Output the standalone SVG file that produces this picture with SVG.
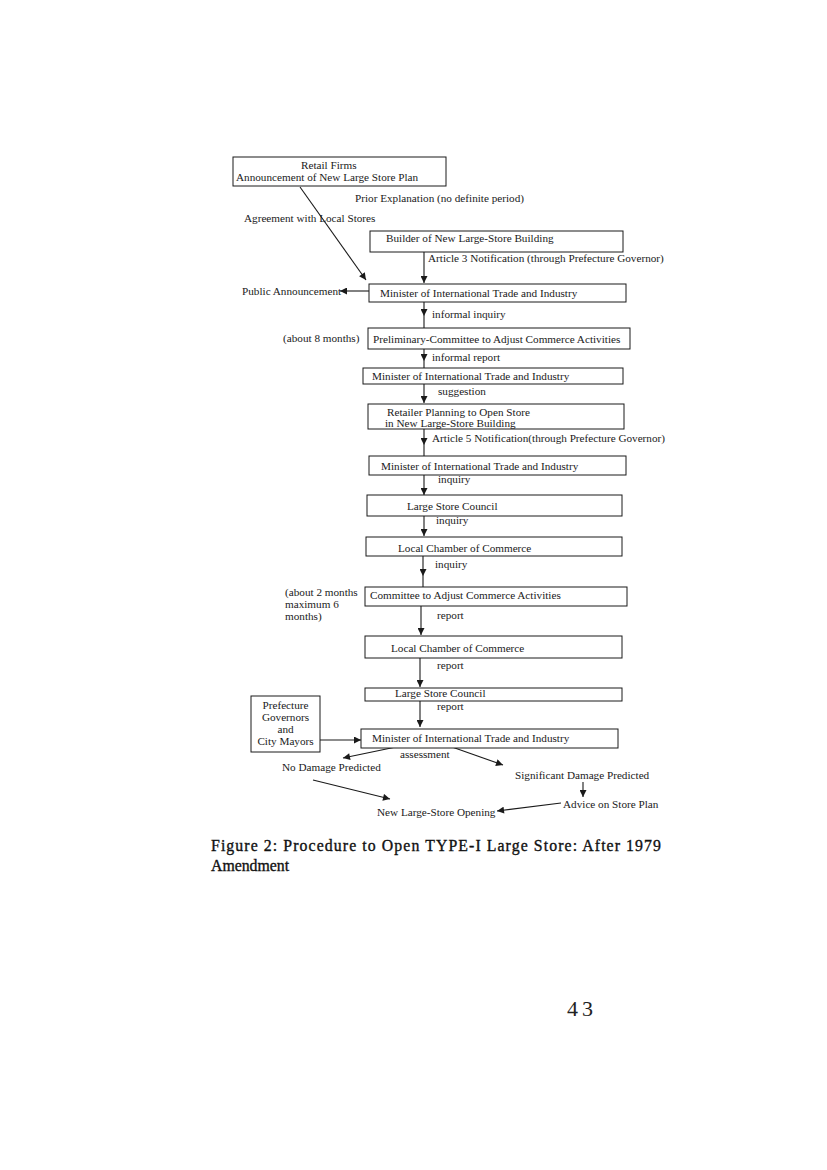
<svg xmlns="http://www.w3.org/2000/svg" width="827" height="1170" viewBox="0 0 827 1170">
<style>
.box{fill:#fff;stroke:#1a1a1a;stroke-width:1}
.t{font-family:"Liberation Serif","Times New Roman",serif;font-size:11.2px;fill:#1a1a1a}
.c{stroke:#1a1a1a;stroke-width:1.1;fill:none}
.cap{font-family:"Liberation Serif","Times New Roman",serif;font-size:15.8px;fill:#111;stroke:#111;stroke-width:0.35}
</style>
<defs>
<marker id="ah" viewBox="0 0 10 10" refX="10" refY="5" markerWidth="8" markerHeight="7" markerUnits="userSpaceOnUse" orient="auto">
<path d="M0,0 L10,5 L0,10 z" fill="#1a1a1a"/>
</marker>
</defs>
<rect width="827" height="1170" fill="#fff"/>

<g id="connectors">
<path class="c" d="M300,187 L366,280" marker-end="url(#ah)"/>
<path class="c" d="M424,252 L424,283" marker-end="url(#ah)"/>
<path class="c" d="M369,291 L340,291" marker-end="url(#ah)"/>
<path class="c" d="M424,302 L424,316 L424,328" marker-mid="url(#ah)"/>
<path class="c" d="M424,349 L424,361 L424,368" marker-mid="url(#ah)"/>
<path class="c" d="M424,384 L424,403" marker-end="url(#ah)"/>
<path class="c" d="M424,429 L424,445 L424,456" marker-mid="url(#ah)"/>
<path class="c" d="M424,475 L424,495" marker-end="url(#ah)"/>
<path class="c" d="M424,516 L424,536" marker-end="url(#ah)"/>
<path class="c" d="M423,556 L423,576 L423,587" marker-mid="url(#ah)"/>
<path class="c" d="M421,606 L421,635" marker-end="url(#ah)"/>
<path class="c" d="M420,658 L420,687" marker-end="url(#ah)"/>
<path class="c" d="M420,701 L420,727" marker-end="url(#ah)"/>
<path class="c" d="M320,740 L361,740" marker-end="url(#ah)"/>
<path class="c" d="M396,747 L343,758" marker-end="url(#ah)"/>
<path class="c" d="M452,747 L503,765" marker-end="url(#ah)"/>
<path class="c" d="M583,782 L583,797" marker-end="url(#ah)"/>
<path class="c" d="M561,803 L497,811" marker-end="url(#ah)"/>
<path class="c" d="M313,780 L390,799" marker-end="url(#ah)"/>
</g>

<g id="retail-firms">
<rect class="box" x="233" y="157" width="213" height="29"/>
<text class="t" x="301" y="169">Retail Firms</text>
<text class="t" x="236" y="181">Announcement of New Large Store Plan</text>
</g>
<g id="label-prior">
<text class="t" x="355" y="202">Prior Explanation  (no definite period)</text>
</g>
<g id="label-agreement">
<text class="t" x="244" y="222">Agreement with Local Stores</text>
</g>
<g id="builder">
<rect class="box" x="370" y="231" width="253" height="21"/>
<text class="t" x="386" y="242">Builder of New Large-Store Building</text>
</g>
<g id="label-article3">
<text class="t" x="428" y="262">Article 3   Notification (through  Prefecture Governor)</text>
</g>
<g id="public-announcement">
<text class="t" x="242" y="295">Public Announcement</text>
</g>
<g id="miti-1">
<rect class="box" x="369" y="284" width="257" height="18"/>
<text class="t" x="380" y="297">Minister of International Trade and Industry</text>
</g>
<g id="label-informal-inquiry">
<text class="t" x="432" y="318">informal inquiry</text>
</g>
<g id="label-8months">
<text class="t" x="283" y="342">(about  8 months)</text>
</g>
<g id="preliminary-committee">
<rect class="box" x="368" y="328" width="262" height="21"/>
<text class="t" x="373" y="343">Preliminary-Committee to Adjust  Commerce Activities</text>
</g>
<g id="label-informal-report">
<text class="t" x="432" y="361">informal report</text>
</g>
<g id="miti-2">
<rect class="box" x="363" y="368" width="260" height="16"/>
<text class="t" x="372" y="380">Minister of International Trade and Industry</text>
</g>
<g id="label-suggestion">
<text class="t" x="438" y="395">suggestion</text>
</g>
<g id="retailer-planning">
<rect class="box" x="368" y="404" width="256" height="25"/>
<text class="t" x="387" y="416">Retailer Planning to Open Store</text>
<text class="t" x="385" y="427">in New Large-Store Building</text>
</g>
<g id="label-article5">
<text class="t" x="432" y="442">Article 5 Notification(through  Prefecture Governor)</text>
</g>
<g id="miti-3">
<rect class="box" x="369" y="456" width="257" height="19"/>
<text class="t" x="381" y="470">Minister of International Trade and Industry</text>
</g>
<g id="label-inquiry-1">
<text class="t" x="438" y="483">inquiry</text>
</g>
<g id="large-store-council-1">
<rect class="box" x="367" y="495" width="255" height="21"/>
<text class="t" x="407" y="510">Large Store Council</text>
</g>
<g id="label-inquiry-2">
<text class="t" x="436" y="524">inquiry</text>
</g>
<g id="local-chamber-1">
<rect class="box" x="366" y="537" width="256" height="19"/>
<text class="t" x="398" y="552">Local Chamber of Commerce</text>
</g>
<g id="label-inquiry-3">
<text class="t" x="435" y="568">inquiry</text>
</g>
<g id="label-2months">
<text class="t" x="285" y="596">(about 2 months</text>
<text class="t" x="285" y="608">maximum 6</text>
<text class="t" x="285" y="620">months)</text>
</g>
<g id="committee">
<rect class="box" x="365" y="587" width="262" height="19"/>
<text class="t" x="370" y="599">Committee  to Adjust Commerce Activities</text>
</g>
<g id="label-report-1">
<text class="t" x="437" y="619">report</text>
</g>
<g id="local-chamber-2">
<rect class="box" x="365" y="636" width="257" height="22"/>
<text class="t" x="391" y="652">Local Chamber of Commerce</text>
</g>
<g id="label-report-2">
<text class="t" x="437" y="669">report</text>
</g>
<g id="large-store-council-2">
<rect class="box" x="365" y="688" width="257" height="13"/>
<text class="t" x="395" y="697">Large Store Council</text>
</g>
<g id="label-report-3">
<text class="t" x="437" y="710">report</text>
</g>
<g id="prefecture-governors">
<rect class="box" x="251" y="696" width="69" height="56"/>
<text class="t" x="285.5" y="709" text-anchor="middle">Prefecture</text>
<text class="t" x="285.5" y="721" text-anchor="middle">Governors</text>
<text class="t" x="285.5" y="733" text-anchor="middle">and</text>
<text class="t" x="285.5" y="745" text-anchor="middle">City Mayors</text>
</g>
<g id="miti-4">
<rect class="box" x="361" y="729" width="257" height="19"/>
<text class="t" x="372" y="742">Minister of International Trade and Industry</text>
</g>
<g id="label-assessment">
<text class="t" x="400" y="758">assessment</text>
</g>
<g id="no-damage">
<text class="t" x="282" y="771">No Damage Predicted</text>
</g>
<g id="significant-damage">
<text class="t" x="515" y="779">Significant Damage Predicted</text>
</g>
<g id="advice">
<text class="t" x="563" y="808">Advice on Store Plan</text>
</g>
<g id="new-store-opening">
<text class="t" x="377" y="816">New Large-Store Opening</text>
</g>

<g id="caption">
<text class="cap" x="211" y="851" textLength="450" lengthAdjust="spacing">Figure 2:  Procedure to Open TYPE-I Large Store:  After 1979</text>
<text class="cap" x="211" y="871">Amendment</text>
</g>
<g id="page-number">
<text x="567" y="1016" style="font-family:'Liberation Serif','Times New Roman',serif;font-size:22px;fill:#222;letter-spacing:4px">43</text>
</g>
</svg>
